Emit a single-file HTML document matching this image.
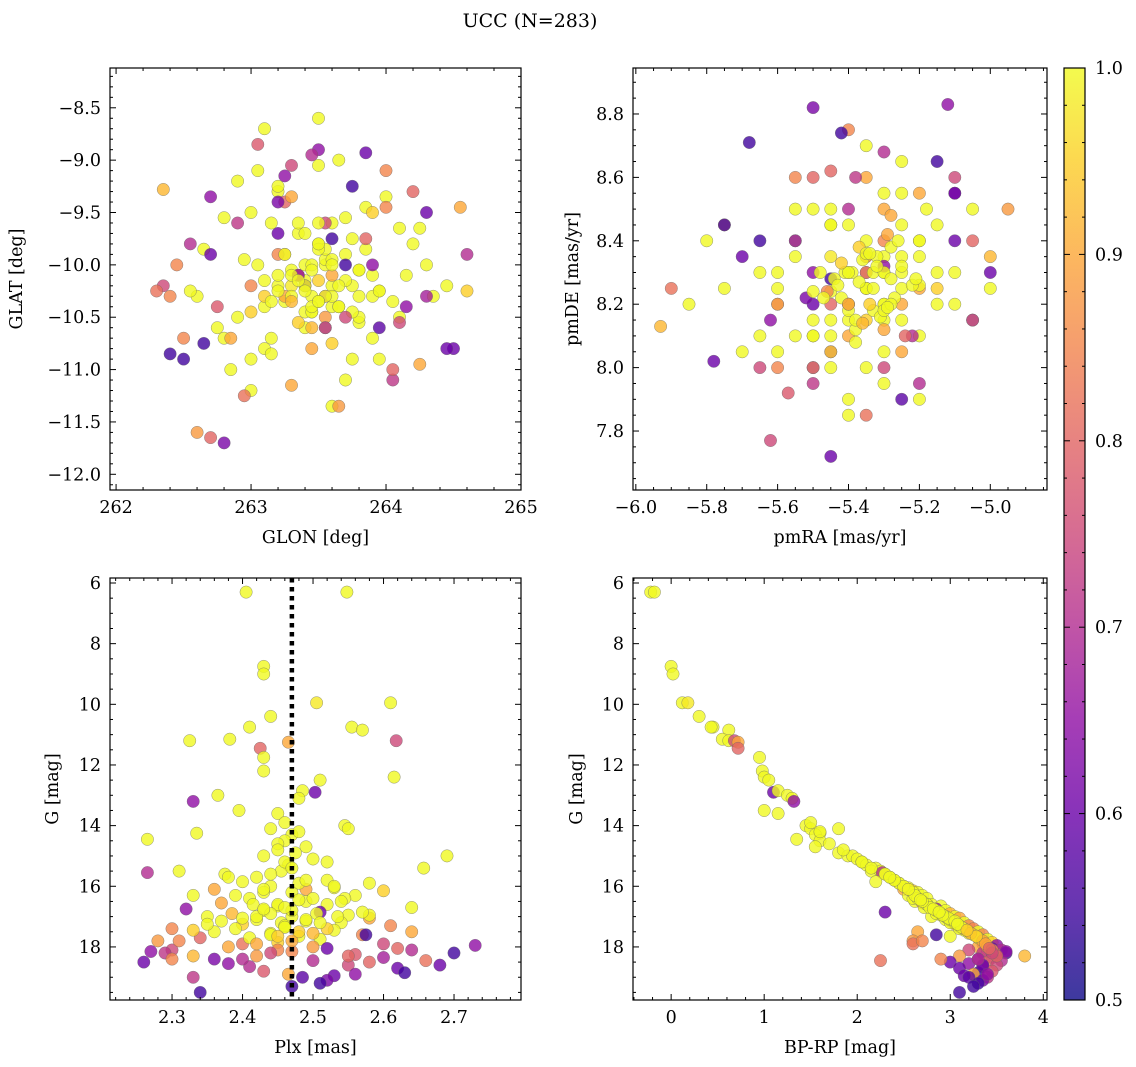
<!DOCTYPE html>
<html><head><meta charset="utf-8">
<style>
html,body{margin:0;padding:0;background:#fff;}
svg{display:block;font-family:"DejaVu Serif","Liberation Serif",serif;}
</style></head>
<body>
<svg id="fig" width="1136" height="1067" viewBox="0 0 1136 1067">
<text x="530" y="27" text-anchor="middle" font-size="19">UCC (N=283)</text>
</svg>
<script>
const gmag=[6.3,6.3,8.75,9.0,9.95,9.95,10.4,10.75,10.75,10.85,11.15,11.2,11.2,11.25,11.45,11.75,12.2,12.4,12.5,12.9,12.85,13.0,13.1,13.2,13.5,13.6,14.0,14.1,14.25,14.1,14.45,14.3,14.5,14.6,14.7,14.9,15.0,15.0,15.1,15.2,15.3,15.4,15.5,15.5,15.55,15.6,15.7,15.8,15.9,15.85,16.0,16.05,16.1,16.15,16.2,16.3,16.3,16.4,16.5,16.55,16.6,16.65,16.7,16.75,16.8,16.85,16.9,16.95,17.0,17.0,17.05,17.1,17.15,17.2,17.25,17.3,17.35,17.4,17.45,17.5,17.5,17.55,17.6,17.65,17.7,17.75,17.8,17.85,17.9,17.9,17.95,18.0,18.05,18.1,18.1,18.15,18.2,18.2,18.25,18.3,18.3,18.35,18.4,18.45,18.45,18.5,18.5,18.55,18.6,18.65,18.7,18.8,18.85,18.9,18.95,19.0,19.0,19.1,19.2,19.5,18.4,16.1,17.6,18.15,17.2,16.9,16.6,17.0,17.4,16.4,
15.2,15.6,15.9,16.2,16.4,16.6,16.8,17.0,17.1,17.3,17.4,17.6,17.7,17.8,18.0,16.0,16.3,16.7,16.9,17.2,17.5,17.9,18.1,18.3,15.4,15.8,16.1,16.5,17.05,17.35,14.8,14.2,13.9,17.55,17.15,16.45,16.75,18.2,18.6,19.3,17.8,18.4,18.9,16.95,17.25,17.65,18.05,15.7,16.85,17.45];
const bprp=[-0.22,-0.18,0.0,0.02,0.12,0.18,0.3,0.45,0.43,0.62,0.55,0.62,0.68,0.72,0.72,0.95,0.98,1.0,1.05,1.1,1.15,1.25,1.3,1.32,1.0,1.15,1.45,1.5,1.6,1.8,1.35,1.55,1.6,1.7,1.55,1.8,1.9,1.95,2.0,2.05,2.1,2.2,2.15,2.25,2.27,2.3,2.35,2.4,2.45,2.2,2.5,2.55,2.5,2.6,2.65,2.7,2.55,2.75,2.62,2.7,2.8,2.9,2.72,2.85,2.95,2.3,3.0,2.9,3.05,2.8,3.1,2.95,3.0,3.15,3.05,3.2,3.1,3.25,3.15,3.3,2.65,3.2,3.35,3.0,3.3,3.4,2.6,3.45,3.35,2.6,3.5,3.3,3.45,3.55,3.2,3.4,3.6,3.35,3.5,3.1,3.8,3.45,3.3,2.25,3.55,3.0,3.4,3.2,3.5,3.35,3.1,3.45,3.3,3.25,3.15,3.4,3.2,3.35,3.3,3.1,2.9,2.55,2.85,3.6,3.0,2.85,2.75,2.95,3.1,2.6,
2.05,2.3,2.45,2.6,2.65,2.75,2.85,2.95,3.0,3.1,3.15,3.25,3.3,3.35,3.4,2.5,2.62,2.78,2.9,3.05,3.2,3.38,3.45,3.5,2.15,2.4,2.55,2.7,2.98,3.12,1.85,1.6,1.5,3.22,3.05,2.68,2.82,3.45,3.35,3.25,2.7,3.3,3.4,2.92,3.08,3.28,3.42,2.35,2.88,3.18];
const plx=[2.405,2.548,2.43,2.43,2.61,2.505,2.44,2.41,2.555,2.57,2.382,2.325,2.618,2.465,2.425,2.43,2.43,2.615,2.51,2.503,2.485,2.365,2.48,2.33,2.395,2.45,2.545,2.55,2.335,2.44,2.265,2.47,2.46,2.45,2.49,2.475,2.69,2.43,2.5,2.52,2.465,2.657,2.31,2.455,2.265,2.375,2.42,2.52,2.58,2.4,2.44,2.53,2.36,2.6,2.47,2.33,2.56,2.41,2.49,2.37,2.52,2.45,2.64,2.32,2.43,2.51,2.385,2.55,2.47,2.35,2.58,2.42,2.49,2.54,2.4,2.61,2.46,2.3,2.53,2.36,2.64,2.44,2.57,2.48,2.34,2.51,2.28,2.45,2.6,2.40,2.73,2.38,2.52,2.64,2.3,2.47,2.7,2.29,2.56,2.42,2.33,2.6,2.36,2.66,2.5,2.26,2.58,2.38,2.55,2.41,2.62,2.43,2.63,2.465,2.53,2.33,2.485,2.52,2.51,2.34,2.3,2.49,2.575,2.27,2.455,2.505,2.415,2.535,2.39,2.545,
2.46,2.44,2.48,2.43,2.5,2.45,2.47,2.42,2.49,2.46,2.52,2.44,2.41,2.47,2.5,2.53,2.39,2.46,2.44,2.51,2.48,2.42,2.45,2.55,2.47,2.49,2.43,2.54,2.40,2.46,2.45,2.48,2.46,2.50,2.37,2.48,2.43,2.44,2.68,2.47,2.31,2.40,2.56,2.58,2.35,2.45,2.62,2.38,2.57,2.33];
const prob=[1,1,1,1,1,0.98,1,1,1,1,1,1,0.75,0.9,0.8,1,1,1,1,0.6,1,1,1,0.65,1,1,1,1,1,1,1,1,1,1,1,1,1,1,1,1,1,1,1,1,0.7,1,1,1,1,1,1,1,0.9,0.95,1,1,1,1,1,0.9,1,1,1,0.65,1,0.6,0.92,1,1,1,0.9,1,1,1,0.95,0.85,1,0.85,1,1,0.9,1,0.85,1,0.8,1,0.88,0.95,0.75,0.82,0.65,0.9,0.6,0.7,0.75,0.85,0.55,0.72,0.78,0.88,0.92,0.68,0.62,0.82,0.7,0.6,0.8,0.65,0.75,0.7,0.6,0.78,0.55,0.9,0.6,0.72,0.58,0.62,0.55,0.55,0.85,0.9,0.55,0.65,1,1,1,1,1,1,
1,1,1,1,1,1,1,1,1,1,0.95,1,1,0.9,0.88,1,1,1,1,1,0.95,0.9,0.85,0.8,1,1,1,1,1,1,1,1,1,0.92,1,1,1,0.75,0.6,0.55,0.85,0.7,0.65,1,1,0.95,0.8,1,1,0.95];
const glon=[263.2,263.5,263.9,263.1,263.6,263.3,263.7,263.4,263.0,263.8,263.55,262.9,262.35,263.45,263.25,264.1,263.35,263.65,262.8,263.2,263.95,263.15,263.75,263.5,262.6,263.3,264.2,263.6,263.05,263.4,263.85,262.75,264.3,263.5,263.25,263.7,263.1,264.0,263.45,262.95,263.6,263.35,262.85,264.15,263.55,263.2,263.8,262.65,263.4,263.0,264.25,263.65,263.3,263.9,262.55,263.5,263.15,264.05,263.75,263.35,262.9,263.55,264.45,263.25,263.8,262.7,263.45,264.1,263.0,263.6,263.3,264.35,262.8,263.7,263.5,264.0,263.15,262.45,263.85,263.4,264.55,263.1,262.4,263.95,264.2,263.6,262.6,264.6,263.3,262.3,263.9,262.85,264.5,263.45,264.1,262.5,263.75,264.05,262.75,263.65,262.35,264.3,263.2,262.95,264.6,263.85,262.7,264.15,263.55,262.55,264.45,263.05,262.65,264.25,263.4,262.9,263.95,262.8,263.7,262.4,264.0,263.25,263.6,263.35,263.5,263.05,263.45,263.8,263.2,263.55,
263.4,263.55,263.3,263.65,263.45,263.2,263.6,263.5,263.35,263.75,263.1,263.45,263.8,263.25,263.55,263.4,263.7,263.15,263.5,263.9,263.35,263.6,263.0,263.85,263.45,263.3,263.55,263.65,263.2,263.75,263.5,263.4,263.6,263.3,263.95,263.1,263.45,263.7,264.3,262.5,263.2,263.55,262.7,263.9,263.35,263.0,264.05,263.5,263.25,263.6];
const glat=[-9.3,-9.8,-10.1,-10.4,-9.6,-10.2,-9.9,-10.6,-9.5,-10.3,-10.0,-9.2,-10.2,-10.8,-9.4,-10.5,-10.1,-9.0,-10.7,-9.7,-10.25,-9.6,-10.9,-8.9,-10.3,-10.05,-9.8,-10.4,-9.1,-10.15,-9.45,-10.6,-10.0,-8.6,-10.35,-9.55,-10.8,-9.35,-10.45,-9.95,-10.2,-9.7,-11.0,-10.1,-10.3,-9.25,-10.55,-9.85,-10.0,-10.9,-9.65,-10.4,-11.15,-9.5,-10.25,-9.05,-10.7,-10.35,-9.75,-10.1,-10.5,-9.95,-10.2,-9.15,-10.05,-9.9,-10.6,-9.65,-11.2,-10.3,-9.35,-10.3,-9.55,-11.1,-10.15,-9.45,-10.85,-10.0,-9.85,-10.45,-9.45,-8.7,-10.3,-10.9,-9.3,-11.35,-11.6,-10.25,-9.05,-10.25,-10.0,-10.7,-10.8,-8.95,-10.55,-10.7,-9.25,-11.1,-10.4,-11.35,-9.28,-10.3,-9.4,-11.25,-9.9,-8.93,-11.65,-10.4,-9.6,-9.8,-10.8,-8.85,-10.75,-10.95,-10.2,-9.6,-10.6,-11.7,-10.0,-10.85,-9.1,-10.3,-9.75,-10.1,-9.6,-10.0,-10.3,-10.5,-10.2,-9.85,
-10.2,-10.3,-10.1,-10.4,-10.0,-10.25,-9.95,-10.35,-10.15,-10.2,-10.3,-10.45,-10.05,-9.9,-10.5,-10.25,-10.15,-10.35,-9.85,-10.3,-10.55,-10.1,-10.2,-9.75,-10.4,-10.3,-10.6,-10.2,-10.1,-10.45,-9.8,-9.7,-10.0,-10.35,-10.25,-10.15,-10.05,-10.5,-9.5,-10.9,-9.9,-10.6,-9.35,-10.7,-9.6,-10.45,-11.0,-10.35,-9.9,-10.75];
const pmra=[-5.4,-5.3,-5.5,-5.2,-5.35,-5.45,-5.25,-5.6,-5.15,-5.4,-5.3,-5.55,-5.65,-5.2,-5.5,-5.05,-5.35,-5.25,-5.45,-5.1,-5.6,-5.4,-5.3,-5.5,-5.75,-5.2,-5.35,-5.45,-5.15,-5.3,-5.55,-5.0,-5.4,-5.25,-5.6,-5.35,-5.45,-5.1,-5.3,-5.5,-5.2,-5.65,-5.4,-5.35,-5.05,-5.5,-5.25,-5.7,-5.3,-5.45,-5.15,-5.55,-5.35,-5.4,-5.8,-5.25,-5.5,-5.2,-5.45,-5.3,-5.6,-5.35,-5.1,-5.45,-5.25,-5.5,-5.0,-5.4,-5.3,-5.55,-5.2,-5.65,-5.35,-5.45,-5.15,-5.4,-5.85,-5.3,-5.5,-5.25,-5.4,-5.05,-5.6,-5.3,-5.45,-5.2,-5.75,-5.35,-5.1,-5.9,-5.55,-5.25,-5.7,-5.4,-5.3,-5.6,-5.15,-5.5,-5.35,-4.95,-5.93,-5.1,-5.5,-5.35,-5.22,-5.78,-5.45,-5.12,-5.62,-5.3,-5.0,-5.57,-5.68,-5.28,-5.45,-5.38,-5.25,-5.52,-5.42,-5.65,-5.35,-5.25,-5.45,-5.3,-5.4,-5.2,-5.5,-5.28,-5.38,-5.33,
-5.35,-5.3,-5.4,-5.28,-5.42,-5.32,-5.38,-5.25,-5.45,-5.33,-5.37,-5.22,-5.48,-5.3,-5.4,-5.36,-5.27,-5.44,-5.31,-5.39,-5.34,-5.29,-5.46,-5.24,-5.41,-5.35,-5.3,-5.43,-5.26,-5.38,-5.32,-5.47,-5.21,-5.36,-5.4,-5.28,-5.34,-5.5,-5.1,-5.75,-5.55,-5.2,-5.62,-5.18,-5.33,-5.45,-5.05,-5.37,-5.29,-5.42];
const pmde=[8.3,8.2,8.1,8.4,8.25,8.35,8.15,8.05,8.45,8.2,8.3,8.5,8.0,8.25,8.6,8.15,8.35,8.55,8.1,8.4,8.2,8.45,7.95,8.3,8.25,8.1,8.4,8.5,8.2,8.05,8.35,8.25,8.15,8.65,8.3,8.0,8.45,8.2,8.55,8.1,8.4,8.3,7.9,8.25,8.15,8.5,8.35,8.05,8.2,8.45,8.3,8.1,8.6,8.2,8.4,8.25,8.0,8.35,8.15,8.5,8.25,8.7,8.3,8.05,8.45,8.2,8.35,7.85,8.15,8.4,8.55,8.1,8.3,8.0,8.25,8.75,8.2,8.4,8.15,8.3,8.1,8.5,8.0,8.35,8.2,7.9,8.45,8.15,8.6,8.25,8.4,8.05,8.35,8.5,8.0,8.2,8.65,7.95,8.3,8.5,8.13,8.55,8.82,7.85,8.1,8.02,8.62,8.83,7.77,8.68,8.3,7.92,8.71,8.48,7.72,8.6,7.9,8.22,8.74,8.4,8.35,8.2,8.28,8.32,8.18,8.26,8.24,8.38,8.12,8.3,
8.25,8.3,8.2,8.28,8.22,8.35,8.15,8.32,8.24,8.18,8.38,8.26,8.3,8.12,8.2,8.34,8.22,8.28,8.16,8.3,8.2,8.42,8.24,8.1,8.3,8.36,8.18,8.26,8.4,8.08,8.32,8.22,8.28,8.14,8.3,8.2,8.36,8.0,8.55,8.45,8.6,7.95,8.15,8.5,8.25,8.05,8.4,8.27,8.19,8.33];
const plxLine=2.47;
const cbTicks=[0.5,0.6,0.7,0.8,0.9,1.0];

const NS='http://www.w3.org/2000/svg';
const svg=document.getElementById('fig');
const FS=17.5;
function mk(tag,attrs,parent){const e=document.createElementNS(NS,tag);for(const k in attrs)e.setAttribute(k,attrs[k]);(parent||svg).appendChild(e);return e;}
const stops=[[13,8,135],[65,4,157],[106,0,168],[143,13,164],[177,42,144],[204,71,120],[225,100,98],[242,132,75],[252,166,54],[252,206,37],[240,249,33]];
function cmap(p){let t=(p-0.5)/0.5;t=Math.max(0,Math.min(1,t));const f=t*10,i=Math.min(9,Math.floor(f)),r=f-i;const a=stops[i],b=stops[i+1];return 'rgb('+a.map((v,k)=>Math.round(v+(b[k]-v)*r)).join(',')+')';}

function fmt(v,dec){let s=v.toFixed(dec);if(parseFloat(s)===0)s=(0).toFixed(dec);return s.replace('-','\u2212');}
function axes(o){
  const g=mk('g',{});
  
  
  const sx=v=>o.x0+(v-o.xmin)/(o.xmax-o.xmin)*(o.x1-o.x0);
  const sy=v=>o.inv? o.y0+(v-o.ymin)/(o.ymax-o.ymin)*(o.y1-o.y0) : o.y1-(v-o.ymin)/(o.ymax-o.ymin)*(o.y1-o.y0);
  const cid='clip-'+o.name;
  const cp=mk('clipPath',{id:cid},g);mk('rect',{x:o.x0,y:o.y0,width:o.x1-o.x0,height:o.y1-o.y0},cp);
  const pts=mk('g',{'clip-path':'url(#'+cid+')'},g);
  
  
  for(let i=0;i<o.xs.length;i++){
    const c=mk('circle',{cx:sx(o.xs[i]).toFixed(1),cy:sy(o.ys[i]).toFixed(1),r:6.2,fill:cmap(prob[i]),'fill-opacity':0.8,stroke:'#666','stroke-width':0.5,'stroke-opacity':0.7},pts);
    
    
  }
  if(o.vline!==undefined){
    const l=mk('line',{x1:sx(o.vline),x2:sx(o.vline),y1:o.y0,y2:o.y1,stroke:'#000','stroke-width':4.5,'stroke-dasharray':'4.5,4.5'},pts);
    
    
  }
  mk('rect',{x:o.x0,y:o.y0,width:o.x1-o.x0,height:o.y1-o.y0,fill:'none',stroke:'#000','stroke-width':1.2},g);
  const tk=mk('g',{stroke:'#000','stroke-width':1},g);
  const eps=1e-9;
  for(let v=Math.ceil(o.xmin/o.xmin_step-eps)*o.xmin_step;v<=o.xmax+eps;v+=o.xmin_step){
    const X=sx(v);const maj=Math.abs(v/o.xmaj-Math.round(v/o.xmaj))<1e-6;const L=maj?6:3;
    mk('line',{x1:X,x2:X,y1:o.y1,y2:o.y1-L},tk);mk('line',{x1:X,x2:X,y1:o.y0,y2:o.y0+L},tk);
    if(maj){const t=mk('text',{x:X,y:o.y1+23,'text-anchor':'middle','font-size':FS,stroke:'none'},g);t.textContent=fmt(Math.round(v/o.xmaj)*o.xmaj,o.xdec);}
  }
  for(let v=Math.ceil(Math.min(o.ymin,o.ymax)/o.ymin_step-eps)*o.ymin_step;v<=Math.max(o.ymin,o.ymax)+eps;v+=o.ymin_step){
    const Y=sy(v);const maj=Math.abs(v/o.ymaj-Math.round(v/o.ymaj))<1e-6;const L=maj?6:3;
    mk('line',{x1:o.x0,x2:o.x0+L,y1:Y,y2:Y},tk);mk('line',{x1:o.x1,x2:o.x1-L,y1:Y,y2:Y},tk);
    if(maj){const t=mk('text',{x:o.x0-9,y:Y+6,'text-anchor':'end','font-size':FS,stroke:'none'},g);t.textContent=fmt(Math.round(v/o.ymaj)*o.ymaj,o.ydec);}
  }
  const xl=mk('text',{x:(o.x0+o.x1)/2,y:o.y1+53,'text-anchor':'middle','font-size':FS},g);xl.textContent=o.xlabel;
  
  const ylx=o.ylx,yly=(o.y0+o.y1)/2;
  const yl=mk('text',{x:ylx,y:yly,'text-anchor':'middle','font-size':FS,transform:'rotate(-90 '+ylx+' '+yly+')'},g);yl.textContent=o.ylabel;
  
}
axes({name:'glon-glat-panel',x0:110,x1:521,y0:68,y1:490,xmin:261.955,xmax:265.0,ymin:-12.15,ymax:-8.12,xmaj:1,xmin_step:0.2,ymaj:0.5,ymin_step:0.1,xdec:0,ydec:1,xs:glon,ys:glat,xlabel:'GLON [deg]',ylabel:'GLAT [deg]',ylx:22});
axes({name:'pm-panel',x0:633,x1:1047,y0:68,y1:490,xmin:-6.008,xmax:-4.84,ymin:7.614,ymax:8.945,xmaj:0.2,xmin_step:0.05,ymaj:0.2,ymin_step:0.05,xdec:1,ydec:1,xs:pmra,ys:pmde,xlabel:'pmRA [mas/yr]',ylabel:'pmDE [mas/yr]',ylx:578});
axes({name:'plx-g-panel',x0:110,x1:521,y0:578,y1:1000,xmin:2.212,xmax:2.795,ymin:5.835,ymax:19.75,inv:true,xmaj:0.1,xmin_step:0.02,ymaj:2,ymin_step:0.5,xdec:1,ydec:0,xs:plx,ys:gmag,xlabel:'Plx [mas]',ylabel:'G [mag]',ylx:58,vline:plxLine});
axes({name:'cmd-panel',x0:633,x1:1047,y0:578,y1:1000,xmin:-0.41,xmax:4.04,ymin:5.835,ymax:19.75,inv:true,xmaj:1,xmin_step:0.2,ymaj:2,ymin_step:0.5,xdec:0,ydec:0,xs:bprp,ys:gmag,xlabel:'BP-RP [mag]',ylabel:'G [mag]',ylx:582});

const cb=mk('g',{});
const defs=mk('defs',{},cb);const lg=mk('linearGradient',{id:'cbg',x1:0,y1:1,x2:0,y2:0},defs);
for(let i=0;i<=20;i++){mk('stop',{offset:(i/20),'stop-color':cmap(0.5+i/40),'stop-opacity':0.8},lg);}
const cx0=1064,cx1=1085,cy0=68,cy1=1000;
mk('rect',{x:cx0,y:cy0,width:cx1-cx0,height:cy1-cy0,fill:'url(#cbg)',stroke:'#000','stroke-width':1.2},cb);
const cy=v=>cy1-(v-0.5)/0.5*(cy1-cy0);
for(let v=0.5;v<=1.0001;v+=0.02){const maj=Math.abs(v*10-Math.round(v*10))<1e-6;const L=maj?6:3;mk('line',{x1:cx1,x2:cx1-L,y1:cy(v),y2:cy(v),stroke:'#000'},cb);mk('line',{x1:cx0,x2:cx0+L,y1:cy(v),y2:cy(v),stroke:'#000'},cb);}
cbTicks.forEach(v=>{const t=mk('text',{x:cx1+10,y:cy(v)+6,'font-size':FS},cb);t.textContent=v.toFixed(1);});
</script>
</body></html>
